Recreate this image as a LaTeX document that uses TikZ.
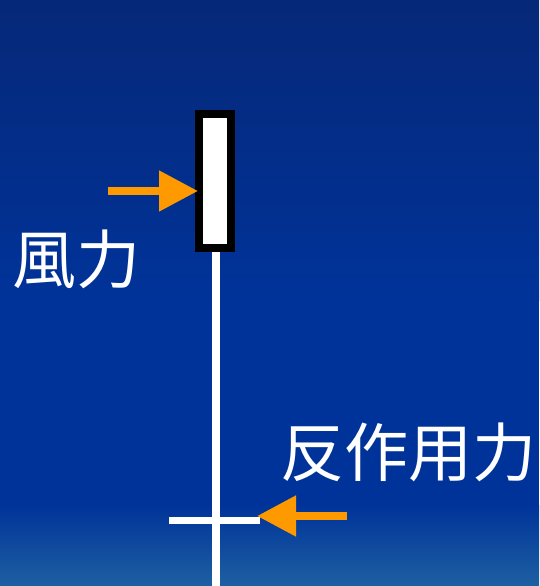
\documentclass[tikz,border=0pt]{standalone}
\usepackage{fontspec}
\newfontfamily\cjk{Noto Sans CJK TC}
\usetikzlibrary{arrows.meta}
\definecolor{bgtop}{RGB}{6,40,120}
\definecolor{bgmid}{RGB}{0,51,153}
\definecolor{bgbot}{RGB}{30,96,162}
\definecolor{forcearrow}{RGB}{255,153,0}
\tikzset{
  force/.style={draw=forcearrow, line width=8pt, -{Triangle[length=39pt,width=39pt]}},
  label/.style={text=white, font=\cjk\fontsize{64}{64}\selectfont, inner sep=0pt},
  member/.style={draw=white, line width=8pt},
}
\begin{document}
\begin{tikzpicture}[x=1pt,y=-1pt]
\useasboundingbox (0,0) rectangle (539,586);
\shade[top color=bgtop, bottom color=bgmid] (0,0) rectangle (539,300);
\fill[bgmid] (0,299.5) rectangle (539,505.5);
\shade[top color=bgmid, bottom color=bgbot] (0,505) rectangle (539,586);
% pole
\coordinate (poletop) at (216,248);
\coordinate (polebot) at (216,586);
\draw[member] (poletop) -- (polebot);
% crossbar
\coordinate (barL) at (169,520);
\coordinate (barR) at (260,520);
\draw[draw=white, line width=7pt] (barL) -- (barR);
% sign box
\node[draw=black, fill=white, line width=8pt, minimum width=32pt, minimum height=134pt, inner sep=0pt] (box) at (215,181) {};
% arrows
\coordinate (windstart) at (108,191);
\coordinate (windtip) at (198,191);
\draw[force] (windstart) -- (windtip);
\coordinate (reactstart) at (347,516);
\coordinate (reacttip) at (257,516);
\draw[force] (reactstart) -- (reacttip);
% labels
\node[label, anchor=base west] (wind) at (12,283) {風力};
\node[label, anchor=base west] (react) at (280,476) {反作用力};
\end{tikzpicture}
\end{document}
